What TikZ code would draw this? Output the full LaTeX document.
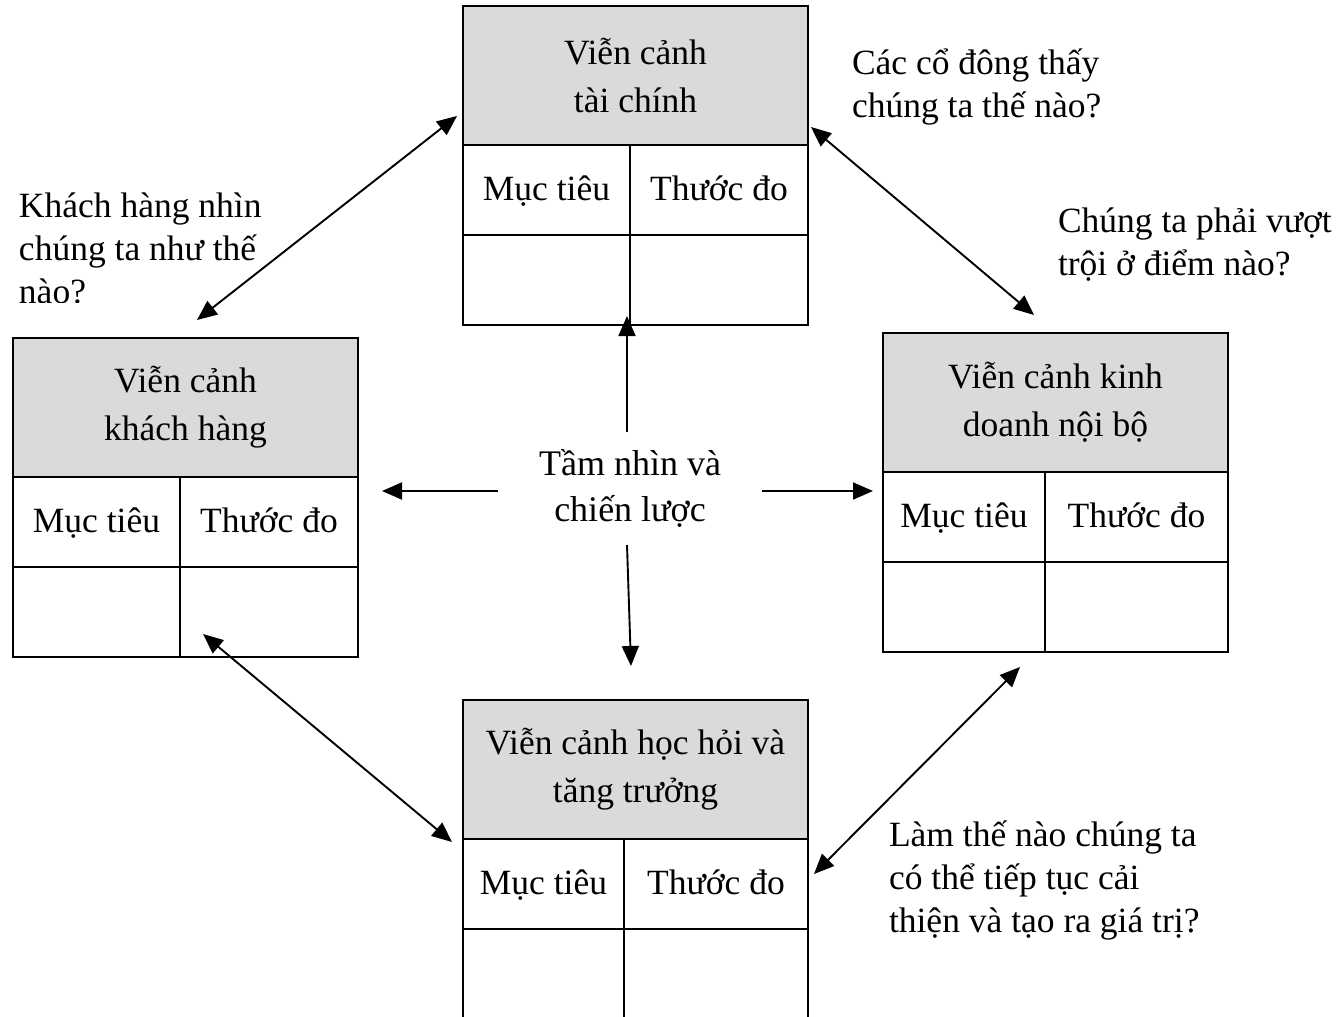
\documentclass[tikz,border=0pt]{standalone}
\usepackage{fontspec}
\setmainfont{Liberation Serif}
\usetikzlibrary{arrows.meta,calc}
\definecolor{headgray}{HTML}{DADADA}

\begin{document}
\begin{tikzpicture}[x=1pt,y=-1pt,
  every node/.style={inner sep=0pt,outer sep=0pt},
  txt/.style={font=\fontsize{35.5}{48}\selectfont},
  head/.style={txt,draw,line width=2pt,fill=headgray,anchor=north west,
    align=center,minimum width=345pt,minimum height=139pt},
  cell/.style={txt,draw,line width=2pt,anchor=north west,minimum height=90pt,
    text height=26pt,text depth=6pt},
  note/.style={anchor=base west,align=left,font=\fontsize{35.5}{43}\selectfont},
  tip/.tip={Triangle[length=20pt,width=17pt]},
  link/.style={line width=1.9pt,tip-tip},
  flow/.style={line width=1.9pt,-tip}]

\clip (0,0) rectangle (1342,1017);

% financial perspective (top)
\node[head] (fin) at (463,6) {Viễn cảnh\\tài chính};
\node[cell,minimum width=167pt] (finA) at (463,145) {Mục tiêu};
\node[cell,minimum width=178pt] (finB) at (630,145) {Thước đo};
\node[cell,minimum width=167pt] (finC) at (463,235) {};
\node[cell,minimum width=178pt] (finD) at (630,235) {};

% customer perspective (left)
\node[head] (cus) at (13,338) {Viễn cảnh\\khách hàng};
\node[cell,minimum width=167pt] (cusA) at (13,477) {Mục tiêu};
\node[cell,minimum width=178pt] (cusB) at (180,477) {Thước đo};
\node[cell,minimum width=167pt] (cusC) at (13,567) {};
\node[cell,minimum width=178pt] (cusD) at (180,567) {};

% internal business perspective (right)
\node[head] (int) at (883,333) {Viễn cảnh kinh\\doanh nội bộ};
\node[cell,minimum width=162pt] (intA) at (883,472) {Mục tiêu};
\node[cell,minimum width=183pt] (intB) at (1045,472) {Thước đo};
\node[cell,minimum width=162pt] (intC) at (883,562) {};
\node[cell,minimum width=183pt] (intD) at (1045,562) {};

% learning and growth perspective (bottom)
\node[head] (lrn) at (463,700) {Viễn cảnh học hỏi và\\tăng trưởng};
\node[cell,minimum width=161pt] (lrnA) at (463,839) {Mục tiêu};
\node[cell,minimum width=184pt] (lrnB) at (624,839) {Thước đo};
\node[cell,minimum width=161pt,minimum height=110pt] (lrnC) at (463,929) {};
\node[cell,minimum width=184pt,minimum height=110pt] (lrnD) at (624,929) {};

% vision and strategy in the centre
\node[align=center,font=\fontsize{36}{46}\selectfont,
  minimum width=264pt,minimum height=113pt] (vis) at (630,488.5)
  {Tầm nhìn và\\chiến lược};

% questions (anchored at the baseline of their last line)
\begin{scope}
  \clip (0,150) rectangle (300,302);
  \node[note] (qcus) at (19,303) {Khách hàng nhìn\\chúng ta như thế\\nào?};
\end{scope}
\node[note] (qfin) at (852,117) {Các cổ đông thấy\\chúng ta thế nào?};
\node[note] (qint) at (1058,275) {Chúng ta phải vượt\\trội ở điểm nào?};
\node[note] (qlrn) at (889,932) {Làm thế nào chúng ta\\có thể tiếp tục cải\\thiện và tạo ra giá trị?};

% connector end points
\coordinate (finW) at (457,116);
\coordinate (cusN) at (197,320);
\coordinate (finE) at (811,127);
\coordinate (intN) at (1034,315);
\coordinate (cusS) at (203,634);
\coordinate (lrnW) at (452,842);
\coordinate (intS) at (1020,667);
\coordinate (lrnE) at (814,874);
\coordinate (finS) at (627,316);
\coordinate (lrnN) at (631,666);
\coordinate (cusE) at (382,491);
\coordinate (intW) at (873,491);

% links between perspectives
\draw[link] (finW) -- (cusN);
\draw[link] (finE) -- (intN);
\draw[link] (cusS) -- (lrnW);
\draw[link] (intS) -- (lrnE);

% arrows from vision and strategy
\draw[flow] (vis.north -| finS) -- (finS);
\draw[flow] (vis.south -| finS) -- (lrnN);
\draw[flow] (vis.west |- cusE) -- (cusE);
\draw[flow] (vis.east |- intW) -- (intW);
\end{tikzpicture}
\end{document}
